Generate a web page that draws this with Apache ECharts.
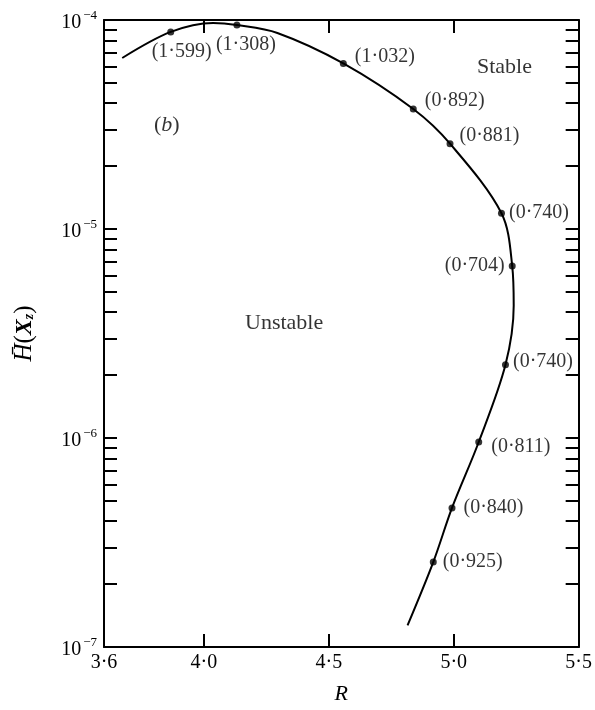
<!DOCTYPE html>
<html><head><meta charset="utf-8">
<script src="https://cdn.jsdelivr.net/npm/echarts@6/dist/echarts.min.js"></script>
<style>html,body{margin:0;padding:0;background:#fff}#c{width:595px;height:710px}</style>
</head><body><div id="c"></div>
<script>
// Curve (R, H)
const curveR = [3.673, 3.867, 4.037, 4.132, 4.294, 4.558, 4.838, 4.985, 5.191, 5.234, 5.240, 5.207, 5.100, 4.993, 4.918, 4.815];
const curveH = [6.58e-5, 8.77e-5, 9.68e-5, 9.46e-5, 8.67e-5, 6.2e-5, 3.75e-5, 2.56e-5, 1.19e-5, 6.65e-6, 4.3e-6, 2.24e-6, 9.57e-7, 4.63e-7, 2.55e-7, 1.27e-7];
// Marked points and their bracketed values
const pointR = [3.867, 4.132, 4.558, 4.838, 4.985, 5.191, 5.234, 5.207, 5.100, 4.993, 4.918];
const pointH = [8.77e-5, 9.46e-5, 6.2e-5, 3.75e-5, 2.56e-5, 1.19e-5, 6.65e-6, 2.24e-6, 9.57e-7, 4.63e-7, 2.55e-7];
const pointLabel = [1.599, 1.308, 1.032, 0.892, 0.881, 0.740, 0.704, 0.740, 0.811, 0.840, 0.925];
// Axis ticks
const xTickLabels = [3.6, 4.0, 4.5, 5.0, 5.5];
const xTicks = [4.0, 4.5, 5.0];
const yDecades = [1e-7, 1e-6, 1e-5, 1e-4];
const yMinorMultipliers = [2, 3, 4, 5, 6, 7, 8, 9];
// Text annotations
const annoText = ['Stable', 'Unstable', '(b)'];
const annoR = [5.203, 4.321, 3.851];
const annoH = [5.96e-5, 3.55e-6, 3.15e-5];

const SERIF = '"Liberation Serif", "DejaVu Serif", serif';
const dot = v => String(v).replace('.', '\u00b7');
const fmt3 = v => v.toFixed(3).replace('.', '\u00b7');

const yTickVals = [];
yDecades.forEach((d, i) => {
  yTickVals.push(d);
  if (i < yDecades.length - 1) yMinorMultipliers.forEach(m => yTickVals.push(+(m * d).toPrecision(3)));
});

// label placement: [position, distance, offset]
const placement = [
  ['bottom', 6, [11, 0]],
  ['bottom', 6, [9, 0]],
  ['right', 8, [0, -7]],
  ['right', 8, [0, -8]],
  ['right', 6, [0, -8]],
  ['right', 4, [0, 0]],
  ['left', 4, [0, 0]],
  ['right', 4, [0, -3]],
  ['right', 9, [0, 5]],
  ['right', 8, [0, 0]],
  ['right', 6, [0, 0]]
];

const axisLine = { show: true, lineStyle: { color: '#000', width: 2 } };

const option = {
  backgroundColor: '#fff',
  animation: false,
  grid: { left: 104, right: 10, top: 20, bottom: 63, containLabel: false },
  xAxis: [{
    type: 'value', min: 3.6, max: 5.5, position: 'bottom',
    axisLine: axisLine, splitLine: { show: false },
    axisTick: { show: true, inside: true, length: 13, customValues: xTicks, lineStyle: { color: '#000', width: 2 } },
    axisLabel: { customValues: xTickLabels, formatter: v => dot(v.toFixed(1)), fontFamily: SERIF, fontSize: 20, color: '#000', margin: 6 },
    name: 'R', nameLocation: 'middle', nameGap: 36,
    nameTextStyle: { fontFamily: SERIF, fontStyle: 'italic', fontSize: 22, color: '#000' }
  }, {
    type: 'value', min: 3.6, max: 5.5, position: 'top',
    axisLine: axisLine, splitLine: { show: false },
    axisTick: { show: true, inside: true, length: 13, customValues: xTicks, lineStyle: { color: '#000', width: 2 } },
    axisLabel: { show: false }
  }],
  yAxis: [{
    type: 'log', logBase: 10, min: 1e-7, max: 1e-4, position: 'left',
    axisLine: axisLine, splitLine: { show: false }, minorTick: { show: false },
    axisTick: { show: true, inside: true, length: 13, customValues: yTickVals, lineStyle: { color: '#000', width: 2 } },
    axisLabel: {
      customValues: yDecades, margin: 7,
      formatter: v => '{b|10}{s|\u2212' + (-Math.round(Math.log10(v))) + '}',
      rich: {
        b: { fontFamily: SERIF, fontSize: 20, color: '#000', padding: [6, 0, 0, 0] },
        s: { fontFamily: SERIF, fontSize: 13, color: '#000', padding: [0, 0, 8, 2] }
      }
    },
    name: '{h|H\u0304}{n|(}{x|X}{z|z}{n|)}', nameLocation: 'middle', nameGap: 67, nameRotate: 90,
    nameTextStyle: {
      rich: {
        h: { fontFamily: SERIF, fontStyle: 'italic', fontSize: 25, color: '#000' },
        n: { fontFamily: SERIF, fontSize: 25, color: '#000' },
        x: { fontFamily: SERIF, fontStyle: 'italic', fontWeight: 'bold', fontSize: 24, color: '#000' },
        z: { fontFamily: SERIF, fontStyle: 'italic', fontWeight: 'bold', fontSize: 14, color: '#000', padding: [10, 0, 0, 0] }
      }
    }
  }, {
    type: 'log', logBase: 10, min: 1e-7, max: 1e-4, position: 'right',
    axisLine: axisLine, splitLine: { show: false }, minorTick: { show: false },
    axisTick: { show: true, inside: true, length: 13, customValues: yTickVals, lineStyle: { color: '#000', width: 2 } },
    axisLabel: { show: false }
  }],
  series: [{
    type: 'line', xAxisIndex: 0, yAxisIndex: 0,
    data: curveR.map((r, i) => [r, curveH[i]]),
    smooth: 0.33, showSymbol: false, symbol: 'none',
    lineStyle: { color: '#000', width: 2 }, z: 2
  }, {
    type: 'scatter', xAxisIndex: 0, yAxisIndex: 0,
    data: pointR.map((r, i) => ({
      value: [r, pointH[i]],
      label: { position: placement[i][0], distance: placement[i][1], offset: placement[i][2] }
    })),
    symbol: 'circle', symbolSize: 7, itemStyle: { color: '#000' },
    label: {
      show: true, fontFamily: SERIF, fontSize: 20, color: '#000',
      formatter: p => '(' + fmt3(pointLabel[p.dataIndex]) + ')'
    }, z: 3
  }, {
    type: 'scatter', xAxisIndex: 0, yAxisIndex: 0,
    data: annoR.map((r, i) => [r, annoH[i]]),
    symbolSize: 0, itemStyle: { color: 'transparent' },
    label: {
      show: true, position: 'inside',
      formatter: p => {
        const t = annoText[p.dataIndex];
        return t === '(b)' ? '{n|(}{i|b}{n|)}' : '{n|' + t + '}';
      },
      rich: {
        n: { fontFamily: SERIF, fontSize: 22, color: '#000' },
        i: { fontFamily: SERIF, fontStyle: 'italic', fontSize: 22, color: '#000' }
      }
    }
  }]
};

const chart = echarts.init(document.getElementById('c'), null, { renderer: 'canvas' });
chart.setOption(option);
</script>
</body></html>
